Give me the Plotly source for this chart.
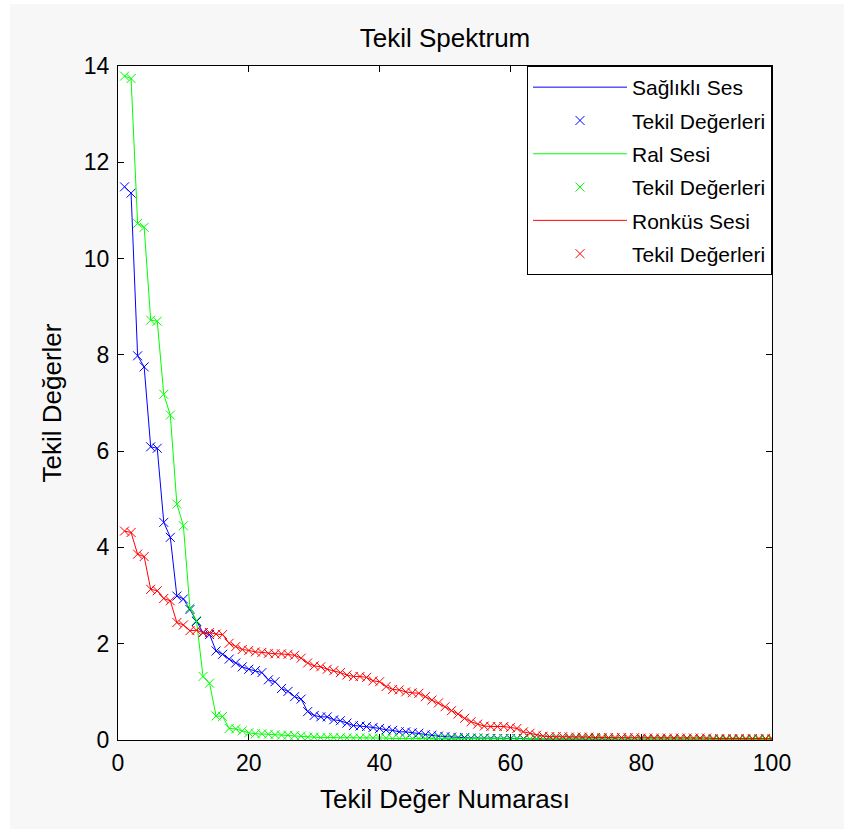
import plotly.graph_objects as go

idx = list(range(1, 101))

saglikli = [11.49, 11.36, 7.98, 7.75, 6.09, 6.06, 4.52, 4.21, 2.99, 2.93,
            2.71, 2.46, 2.23, 2.19, 1.85, 1.78, 1.68, 1.60, 1.52, 1.47,
            1.44, 1.40, 1.25, 1.21, 1.07, 1.01, 0.90, 0.85, 0.59, 0.51,
            0.48, 0.48, 0.42, 0.40, 0.35, 0.30, 0.29, 0.28, 0.26, 0.24,
            0.21, 0.20, 0.17, 0.17, 0.15, 0.14, 0.11, 0.10, 0.08, 0.07,
            0.06, 0.05, 0.05, 0.04, 0.04, 0.04, 0.03, 0.03, 0.03, 0.03,
            0.03, 0.03, 0.02, 0.02, 0.02, 0.02, 0.02, 0.02, 0.02, 0.02,
            0.02, 0.02, 0.02, 0.02, 0.01, 0.01, 0.01, 0.01, 0.01, 0.01,
            0.01, 0.01, 0.01, 0.01, 0.01, 0.01, 0.01, 0.01, 0.01, 0.01,
            0.01, 0.01, 0.01, 0.01, 0.01, 0.01, 0.01, 0.01, 0.01, 0.01]

ral = [13.79, 13.74, 10.73, 10.65, 8.72, 8.70, 7.18, 6.75, 4.90, 4.45,
       2.74, 2.48, 1.32, 1.18, 0.50, 0.49, 0.24, 0.23, 0.19, 0.15,
       0.13, 0.13, 0.12, 0.11, 0.10, 0.10, 0.09, 0.08, 0.06, 0.06,
       0.05, 0.05, 0.05, 0.05, 0.04, 0.04, 0.04, 0.04, 0.04, 0.04,
       0.04, 0.03, 0.03, 0.03, 0.03, 0.03, 0.03, 0.03, 0.03, 0.03,
       0.03, 0.03, 0.03, 0.03, 0.03, 0.03, 0.02, 0.02, 0.02, 0.02,
       0.02, 0.02, 0.02, 0.02, 0.02, 0.02, 0.02, 0.02, 0.02, 0.02,
       0.02, 0.02, 0.02, 0.02, 0.02, 0.01, 0.01, 0.01, 0.01, 0.01,
       0.01, 0.01, 0.01, 0.01, 0.01, 0.01, 0.01, 0.01, 0.01, 0.01,
       0.01, 0.01, 0.01, 0.01, 0.01, 0.01, 0.01, 0.01, 0.01, 0.01]

ronkus = [4.34, 4.31, 3.86, 3.81, 3.13, 3.10, 2.94, 2.89, 2.44, 2.39,
          2.27, 2.28, 2.23, 2.23, 2.20, 2.19, 2.01, 1.94, 1.88, 1.86,
          1.83, 1.82, 1.80, 1.79, 1.79, 1.78, 1.76, 1.70, 1.60, 1.54,
          1.52, 1.47, 1.44, 1.40, 1.35, 1.32, 1.32, 1.30, 1.23, 1.21,
          1.11, 1.05, 1.04, 1.00, 0.98, 0.97, 0.90, 0.83, 0.77, 0.69,
          0.61, 0.54, 0.45, 0.38, 0.33, 0.29, 0.28, 0.28, 0.28, 0.26,
          0.24, 0.17, 0.14, 0.10, 0.08, 0.07, 0.07, 0.07, 0.06, 0.06,
          0.06, 0.06, 0.05, 0.05, 0.05, 0.05, 0.05, 0.05, 0.05, 0.04,
          0.04, 0.04, 0.04, 0.04, 0.04, 0.04, 0.04, 0.04, 0.04, 0.04,
          0.03, 0.03, 0.03, 0.03, 0.03, 0.03, 0.03, 0.03, 0.03, 0.03]

series = [
    ("Sağlıklı Ses", saglikli, "#0000ff"),
    ("Ral Sesi", ral, "#00ff00"),
    ("Ronküs Sesi", ronkus, "#ff0000"),
]
marker_name = "Tekil Değerleri"

FONT = "Liberation Sans, Arial, Helvetica, sans-serif"

fig = go.Figure()
g = 0
for name, vals, col in series:
    fig.add_trace(go.Scatter(
        x=idx, y=vals, mode="lines", name=name,
        line=dict(color=col, width=1), legendgroup=f"g{g}"))
    g += 1
    fig.add_trace(go.Scatter(
        x=idx, y=vals, mode="markers", name=marker_name,
        marker=dict(symbol="x-thin-open", size=9, color=col,
                    line=dict(color=col, width=1)),
        legendgroup=f"g{g}"))
    g += 1

axis_common = dict(
    showgrid=False, zeroline=False, showline=True, linecolor="black",
    linewidth=1, mirror="ticks", ticks="inside", ticklen=6,
    tickcolor="black", tickfont=dict(family=FONT, size=23, color="black"),
)

fig.update_layout(
    width=844, height=829, autosize=False,
    margin=dict(l=118, r=72, t=66, b=89),
    paper_bgcolor="#f7f7f7", plot_bgcolor="white",
    font=dict(family=FONT, color="black"),
    title=dict(text="Tekil Spektrum", x=0.5, xref="paper", xanchor="center",
               y=1 - 38 / 829, yref="container", yanchor="middle",
               font=dict(family=FONT, size=26, color="black")),
    xaxis=dict(range=[0, 100], tickvals=[0, 20, 40, 60, 80, 100],
               ticklabelstandoff=2,
               title=dict(text="Tekil Değer Numarası", standoff=15,
                          font=dict(family=FONT, size=26, color="black")),
               **axis_common),
    yaxis=dict(range=[0, 14], tickvals=[0, 2, 4, 6, 8, 10, 12, 14],
               ticklabelstandoff=3,
               title=dict(text="Tekil Değerler", standoff=14,
                          font=dict(family=FONT, size=26, color="black")),
               **axis_common),
    legend=dict(x=1, xanchor="right", y=1, yanchor="top",
                bgcolor="white", bordercolor="black", borderwidth=1,
                font=dict(family=FONT, size=21, color="black"),
                itemwidth=94, traceorder="grouped", tracegroupgap=3),
    showlegend=True,
    shapes=[
        dict(type="rect", xref="paper", yref="paper", x0=-0.25, x1=-0.165,
             y0=-0.3, y1=1.2, fillcolor="white", line=dict(width=0), layer="below"),
        dict(type="rect", xref="paper", yref="paper", x0=-0.25, x1=1.3,
             y0=1.092, y1=1.2, fillcolor="white", line=dict(width=0), layer="below"),
    ],
)

fig.write_html("out.html")
